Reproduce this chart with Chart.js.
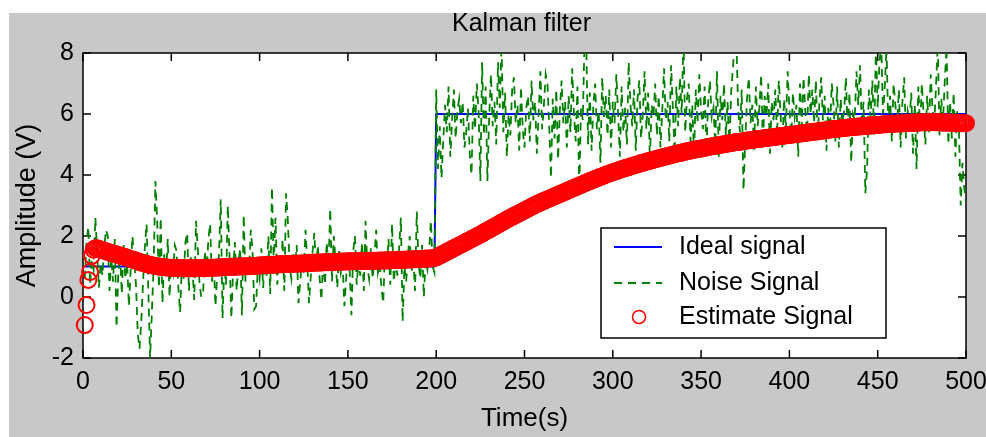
<!DOCTYPE html>
<html><head><meta charset="utf-8">
<script src="https://cdn.jsdelivr.net/npm/chart.js@4/dist/chart.umd.min.js"></script>
<style>html,body{margin:0;padding:0;background:#fff;overflow:hidden}#wrap{width:986px;height:437px;position:relative}</style>
</head><body><div id="wrap"><canvas id="c" width="986" height="437"></canvas></div>
<script>
const titleText = 'Kalman filter';
const xLabel = 'Time(s)';
const yLabel = 'Amplitude (V)';
const seriesNames = ['Ideal signal', 'Noise Signal', 'Estimate Signal'];
const xTicks = [0, 50, 100, 150, 200, 250, 300, 350, 400, 450, 500];
const yTicks = [-2, 0, 2, 4, 6, 8];

const idealTime = [1, 199, 200, 500];
const idealValue = [1, 1, 6, 6];

const noise = [
0.6,1.8,2.3,0.4,1.2,0.9,2.6,1.5,0.3,1.1,
0.7,1.6,2.2,2.0,0.2,1.3,0.5,1.9,-1.0,0.8,
1.4,0.1,1.7,0.6,1.1,-0.3,0.9,2.0,1.2,0.4,
-1.2,-1.7,-0.8,0.5,1.6,2.4,0.2,-2.0,-0.5,1.0,
3.8,2.5,0.3,2.6,-0.2,1.4,0.7,1.9,0.0,1.2,
0.8,1.7,1.5,0.3,-0.5,1.1,0.6,1.8,2.1,0.2,
1.3,0.9,-0.1,2.5,1.6,0.4,0.0,0.1,1.5,0.8,
1.9,2.4,0.5,1.2,-0.3,0.7,1.4,3.2,-0.7,1.0,
0.4,3.0,1.3,-0.7,0.9,1.8,0.2,1.1,1.6,-0.6,
2.7,0.5,1.3,0.8,2.2,1.5,-0.4,-0.3,1.0,0.6,
1.6,0.3,1.2,0.7,2.0,0.1,3.6,1.1,2.6,0.4,
1.3,0.8,1.9,0.2,3.4,2.5,1.0,0.6,1.4,0.9,
1.7,-0.2,0.5,1.2,0.8,2.2,1.1,-0.2,0.7,1.5,
2.1,0.9,1.7,0.6,-0.1,1.3,0.4,1.8,1.0,2.9,
0.5,2.0,1.2,0.3,1.6,0.8,1.1,-0.3,0.6,1.4,
0.9,-0.6,1.5,2.0,0.4,1.2,0.7,1.8,0.2,2.5,
1.0,0.6,1.6,0.6,1.3,2.2,0.8,1.1,0.3,-0.2,
1.5,0.9,1.9,0.4,2.4,0.5,1.2,0.7,1.6,2.6,
-0.8,1.0,0.5,1.4,2.0,0.8,1.3,0.2,2.8,1.1,
0.6,1.7,0.0,1.2,0.9,1.5,2.5,1.0,0.8,6.8,
4.2,5.6,3.9,5.1,6.3,5.4,6.9,4.6,5.8,6.8,
5.2,6.1,6.5,5.7,6.4,4.9,5.4,6.2,4.7,4.0,
6.6,5.5,7.0,6.1,3.8,7.7,5.3,6.9,3.8,5.9,
7.3,5.6,6.4,5.0,7.7,6.2,8.3,5.4,6.7,4.6,
6.0,5.3,6.8,7.2,5.7,6.3,4.8,6.9,5.5,4.9,
6.2,6.6,5.1,7.1,5.8,6.4,4.7,6.0,7.4,5.5,
6.3,7.3,7.0,5.6,3.9,6.5,5.2,6.8,4.5,6.1,
7.1,5.7,6.4,4.9,6.6,5.4,7.5,6.0,5.1,6.9,
3.5,6.2,5.8,8.4,8.2,5.0,6.7,4.8,6.3,7.0,
5.5,6.1,4.4,7.2,5.9,6.6,5.3,6.8,4.9,6.4,
5.7,7.3,6.0,4.6,6.9,5.4,6.2,5.0,7.7,6.3,
5.6,6.8,4.8,6.5,7.1,5.2,6.0,7.4,5.5,6.7,
4.5,6.3,5.9,7.0,5.3,6.6,4.9,6.1,7.5,5.8,
6.4,5.1,7.6,6.2,4.7,6.9,5.6,7.2,6.0,8.5,
5.4,6.5,7.0,5.1,6.3,4.6,6.8,5.7,7.3,6.1,
5.5,6.9,4.8,6.4,7.1,5.9,6.2,5.0,7.4,4.6,
6.6,5.8,7.0,5.3,6.4,4.9,6.7,7.5,8.3,8.4,
6.1,5.4,6.8,3.5,5.1,6.5,7.2,5.7,6.3,4.8,
6.9,5.6,6.2,7.3,5.0,6.6,5.9,7.0,4.7,6.4,
5.8,6.8,5.3,7.1,6.0,4.9,6.5,5.5,7.4,6.2,
5.1,6.7,5.9,6.3,4.6,7.0,5.6,7.2,6.1,5.4,
7.3,6.0,6.8,5.7,7.1,5.2,6.4,7.2,5.8,6.6,
4.8,6.2,5.5,7.0,6.3,5.1,6.9,4.9,6.5,5.7,
6.1,7.2,5.4,6.7,4.4,6.0,5.8,7.4,6.3,7.6,
5.6,6.4,3.4,4.2,6.8,5.9,7.1,5.3,8.2,6.2,
7.7,8.3,6.0,6.9,8.2,5.5,6.6,5.1,7.0,6.3,
5.7,6.8,4.9,6.4,7.2,5.2,6.1,5.8,6.7,4.7,
6.3,4.2,6.9,5.5,7.0,6.0,5.0,6.6,5.4,7.3,
6.2,5.6,6.9,8.3,5.3,6.5,5.8,7.1,8.2,5.0,
6.4,5.2,6.7,4.6,6.1,5.5,3.0,4.4,3.6,3.1
];

const estimate = [
-0.92,-0.26,0.56,0.82,1.35,1.55,1.60,1.60,1.58,1.56,
1.54,1.52,1.50,1.48,1.46,1.45,1.43,1.41,1.40,1.38,
1.36,1.34,1.32,1.31,1.29,1.27,1.25,1.23,1.21,1.19,
1.17,1.15,1.13,1.12,1.10,1.08,1.07,1.05,1.04,1.03,
1.02,1.01,1.00,0.99,0.98,0.98,0.97,0.97,0.96,0.96,
0.96,0.95,0.95,0.95,0.95,0.95,0.94,0.94,0.94,0.94,
0.94,0.94,0.94,0.94,0.95,0.95,0.95,0.95,0.95,0.95,
0.96,0.96,0.96,0.96,0.97,0.97,0.97,0.97,0.98,0.98,
0.98,0.98,0.99,0.99,0.99,0.99,1.00,1.00,1.00,1.00,
1.01,1.01,1.01,1.01,1.02,1.02,1.02,1.02,1.03,1.03,
1.04,1.04,1.04,1.05,1.05,1.05,1.06,1.06,1.06,1.07,
1.07,1.07,1.07,1.08,1.08,1.08,1.08,1.09,1.09,1.09,
1.09,1.10,1.10,1.10,1.11,1.11,1.11,1.12,1.12,1.12,
1.12,1.13,1.13,1.13,1.13,1.14,1.14,1.14,1.14,1.15,
1.15,1.15,1.15,1.15,1.16,1.16,1.16,1.16,1.16,1.17,
1.17,1.17,1.17,1.17,1.17,1.18,1.18,1.18,1.18,1.18,
1.18,1.19,1.19,1.19,1.19,1.19,1.19,1.20,1.20,1.20,
1.20,1.20,1.20,1.21,1.21,1.21,1.21,1.22,1.22,1.22,
1.22,1.22,1.23,1.23,1.23,1.23,1.24,1.24,1.24,1.24,
1.25,1.25,1.25,1.26,1.26,1.26,1.27,1.27,1.28,1.30,
1.33,1.36,1.39,1.42,1.45,1.48,1.51,1.54,1.57,1.60,
1.63,1.66,1.69,1.72,1.75,1.78,1.81,1.84,1.87,1.90,
1.93,1.96,1.99,2.02,2.05,2.08,2.12,2.15,2.18,2.21,
2.24,2.28,2.31,2.34,2.37,2.41,2.44,2.47,2.50,2.54,
2.57,2.60,2.63,2.66,2.69,2.72,2.75,2.78,2.81,2.84,
2.87,2.90,2.93,2.96,2.99,3.02,3.05,3.07,3.10,3.13,
3.15,3.18,3.20,3.23,3.25,3.28,3.30,3.33,3.35,3.38,
3.40,3.43,3.45,3.48,3.50,3.53,3.55,3.58,3.60,3.63,
3.65,3.68,3.70,3.73,3.75,3.78,3.80,3.82,3.85,3.87,
3.89,3.92,3.94,3.96,3.98,4.01,4.03,4.05,4.07,4.09,
4.11,4.13,4.15,4.17,4.19,4.21,4.23,4.24,4.26,4.28,
4.30,4.32,4.33,4.35,4.37,4.39,4.40,4.42,4.44,4.45,
4.47,4.48,4.50,4.52,4.53,4.55,4.56,4.58,4.59,4.61,
4.62,4.64,4.65,4.67,4.68,4.70,4.71,4.72,4.74,4.75,
4.77,4.78,4.79,4.80,4.82,4.83,4.84,4.85,4.86,4.87,
4.88,4.89,4.91,4.92,4.93,4.94,4.95,4.96,4.97,4.98,
4.99,5.00,5.01,5.02,5.03,5.04,5.05,5.06,5.07,5.08,
5.08,5.09,5.10,5.11,5.12,5.13,5.14,5.14,5.15,5.16,
5.17,5.18,5.18,5.19,5.20,5.21,5.22,5.22,5.23,5.24,
5.25,5.25,5.26,5.27,5.28,5.28,5.29,5.30,5.31,5.31,
5.32,5.33,5.34,5.34,5.35,5.36,5.37,5.37,5.38,5.39,
5.40,5.40,5.41,5.42,5.43,5.43,5.44,5.45,5.46,5.46,
5.47,5.48,5.49,5.50,5.50,5.51,5.52,5.52,5.53,5.54,
5.54,5.55,5.56,5.56,5.57,5.57,5.58,5.58,5.59,5.59,
5.60,5.60,5.61,5.61,5.62,5.62,5.63,5.63,5.64,5.64,
5.65,5.65,5.66,5.66,5.66,5.67,5.67,5.68,5.68,5.68,
5.69,5.69,5.69,5.70,5.70,5.70,5.71,5.71,5.71,5.71,
5.72,5.72,5.72,5.72,5.73,5.73,5.73,5.73,5.73,5.73,
5.73,5.73,5.73,5.73,5.73,5.72,5.72,5.72,5.72,5.72,
5.72,5.71,5.71,5.71,5.71,5.70,5.70,5.70,5.70,5.70
];

const time = noise.map((_, i) => i + 1);

const FONT = "'Liberation Sans', Arial, sans-serif";

const framePlugin = {
  id: 'matlabFrame',
  beforeDraw(chart) {
    const { ctx, chartArea: a } = chart;
    ctx.save();
    ctx.fillStyle = '#ffffff';
    ctx.fillRect(0, 0, chart.width, chart.height);
    ctx.fillStyle = '#c8c8c8';
    ctx.fillRect(9, 13, chart.width - 9, chart.height - 13);
    ctx.fillStyle = '#ffffff';
    ctx.fillRect(a.left, a.top, a.right - a.left, a.bottom - a.top);
    ctx.fillStyle = '#000';
    ctx.font = '25px ' + FONT;
    ctx.textAlign = 'center';
    ctx.textBaseline = 'middle';
    ctx.fillText(titleText, (a.left + a.right) / 2 - 3, 24);
    ctx.restore();
  },
  beforeDatasetsDraw(chart) {
    const { ctx, chartArea: a, scales } = chart;
    ctx.save();
    ctx.strokeStyle = '#000';
    ctx.lineWidth = 1.5;
    ctx.strokeRect(a.left, a.top, a.right - a.left, a.bottom - a.top);
    const tl = 8;
    ctx.beginPath();
    scales.x.ticks.forEach(t => {
      const px = scales.x.getPixelForValue(t.value);
      ctx.moveTo(px, a.bottom); ctx.lineTo(px, a.bottom - tl);
      ctx.moveTo(px, a.top); ctx.lineTo(px, a.top + tl);
    });
    scales.y.ticks.forEach(t => {
      const py = scales.y.getPixelForValue(t.value);
      ctx.moveTo(a.left, py); ctx.lineTo(a.left + tl, py);
      ctx.moveTo(a.right, py); ctx.lineTo(a.right - tl, py);
    });
    ctx.stroke();
    ctx.restore();
  },
  afterDatasetsDraw(chart) {
    const { ctx, chartArea: a } = chart;
    const ds = chart.data.datasets;
    const lx = a.right - 365, ly = a.bottom - 130, w = 285, h = 110;
    ctx.save();
    ctx.fillStyle = '#fff';
    ctx.fillRect(lx, ly, w, h);
    ctx.strokeStyle = '#000';
    ctx.lineWidth = 1.5;
    ctx.strokeRect(lx, ly, w, h);
    const rows = [19, 55, 89];
    ctx.font = '25px ' + FONT;
    ctx.textAlign = 'left';
    ctx.textBaseline = 'middle';
    ds.forEach((d, i) => {
      const y = ly + rows[i];
      ctx.save();
      ctx.strokeStyle = d.borderColor;
      if (d.pointRadius > 0) {
        ctx.lineWidth = 1.5;
        ctx.beginPath();
        ctx.arc(lx + 38, y, 6.5, 0, Math.PI * 2);
        ctx.stroke();
      } else {
        ctx.lineWidth = d.borderWidth;
        ctx.setLineDash(d.borderDash || []);
        ctx.beginPath();
        ctx.moveTo(lx + 13, y); ctx.lineTo(lx + 61, y);
        ctx.stroke();
      }
      ctx.restore();
      ctx.fillStyle = '#000';
      ctx.fillText(d.label, lx + 78, y);
    });
    ctx.restore();
  }
};

new Chart(document.getElementById('c'), {
  type: 'scatter',
  data: {
    datasets: [
      {
        label: seriesNames[0],
        data: idealTime.map((t, i) => ({ x: t, y: idealValue[i] })),
        showLine: true, borderColor: '#0000ff', borderWidth: 2,
        pointRadius: 0, order: 3
      },
      {
        label: seriesNames[1],
        data: time.map((t, i) => ({ x: t, y: noise[i] })),
        showLine: true, borderColor: '#008000', borderWidth: 1.8,
        borderDash: [8, 6], pointRadius: 0, order: 2
      },
      {
        label: seriesNames[2],
        data: time.map((t, i) => ({ x: t, y: estimate[i] })),
        showLine: false, borderColor: '#ff0000', backgroundColor: 'rgba(0,0,0,0)',
        borderWidth: 2, pointRadius: 8, pointStyle: 'circle', clip: false, order: 1
      }
    ]
  },
  options: {
    responsive: false,
    animation: false,
    devicePixelRatio: 1,
    layout: { padding: { left: 9, right: 20, top: 53, bottom: 0 } },
    plugins: { legend: { display: false }, title: { display: false }, tooltip: { enabled: false } },
    scales: {
      x: {
        type: 'linear', min: 0, max: 500,
        afterBuildTicks: s => { s.ticks = xTicks.map(v => ({ value: v })); },
        afterFit: s => { s.height = 79; s.paddingLeft = 0; s.paddingRight = 0; },
        grid: { display: false, drawTicks: false },
        border: { display: false },
        ticks: { color: '#000', font: { size: 25, family: FONT }, padding: 9, maxRotation: 0, autoSkip: false },
        title: { display: true, text: xLabel, color: '#000', font: { size: 26, family: FONT }, padding: { top: 3, bottom: 3 } }
      },
      y: {
        type: 'linear', min: -2, max: 8,
        afterBuildTicks: s => { s.ticks = yTicks.map(v => ({ value: v })); },
        afterFit: s => { s.width = 74; s.paddingTop = 0; s.paddingBottom = 0; },
        grid: { display: false, drawTicks: false },
        border: { display: false },
        ticks: { color: '#000', font: { size: 25, family: FONT }, padding: 9, autoSkip: false },
        title: { display: true, text: yLabel, color: '#000', font: { size: 27, family: FONT }, padding: { top: 2, bottom: 2 } }
      }
    }
  },
  plugins: [framePlugin]
});
</script>
</body></html>
